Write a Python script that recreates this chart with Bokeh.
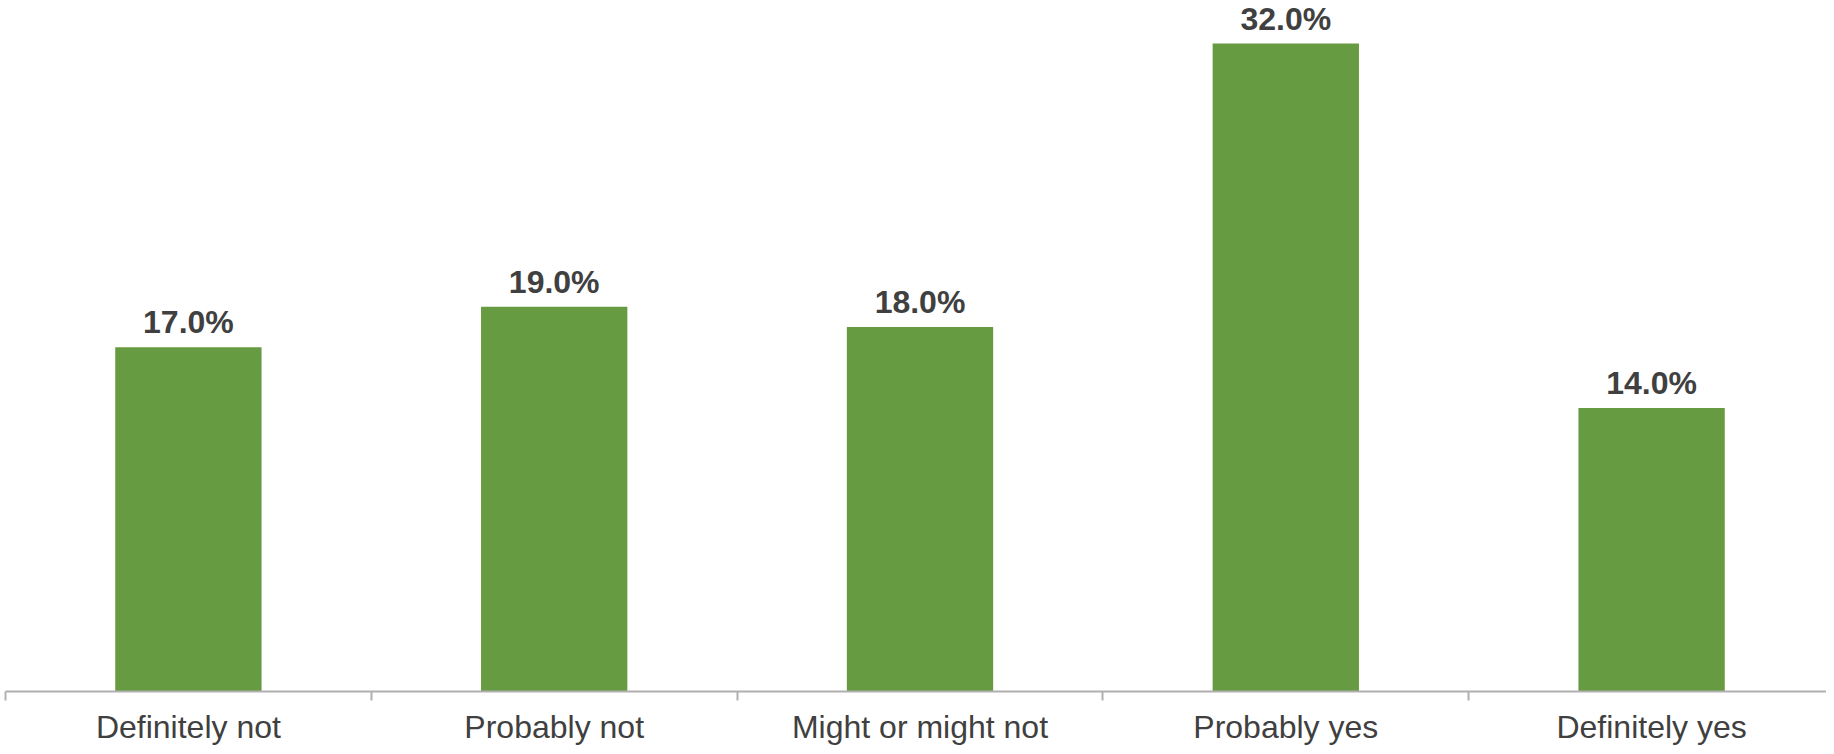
from bokeh.plotting import figure
from bokeh.models import ColumnDataSource, LabelSet, FixedTicker, Range1d
from bokeh.core.properties import value
from bokeh.embed import file_html
from bokeh.resources import INLINE

categories = ["Definitely not", "Probably not", "Might or might not", "Probably yes", "Definitely yes"]
values = [17.0, 19.0, 18.0, 32.0, 14.0]
value_labels = ["17.0%", "19.0%", "18.0%", "32.0%", "14.0%"]

n = len(categories)
xpos = [i + 0.5 for i in range(n)]
src = ColumnDataSource(dict(x=xpos, top=values, lab=value_labels))

p = figure(width=1826, height=746, output_backend="svg", toolbar_location=None,
           x_range=Range1d(-0.01367, 4.97813), y_range=Range1d(-2.716, 34.123),
           min_border_left=0, min_border_right=0, min_border_top=0, min_border_bottom=0)
p.outline_line_color = None
p.background_fill_color = "white"
p.border_fill_color = "white"
p.grid.visible = False
p.yaxis.visible = False

p.vbar(x="x", top="top", bottom=0, width=0.4, source=src, fill_color="#669B41", line_color=None)

labels = LabelSet(x="x", y="top", text="lab", source=src, text_align="center",
                  text_baseline="alphabetic", y_offset=14, text_font_size="32px",
                  text_font_style="bold", text_color="#404040",
                  text_font=value("Liberation Sans"))
p.add_layout(labels)

ax = p.xaxis[0]
ax.fixed_location = 0
ax.bounds = (0, n)
ax.ticker = FixedTicker(ticks=xpos, minor_ticks=list(range(n + 1)))
ax.major_label_overrides = {x: c for x, c in zip(xpos, categories)}
ax.major_tick_line_color = None
ax.major_tick_out = 0
ax.major_tick_in = 0
ax.minor_tick_line_color = "#B0B0B0"
ax.minor_tick_line_width = 2
ax.minor_tick_out = 9
ax.minor_tick_in = 0
ax.axis_line_color = "#B0B0B0"
ax.axis_line_width = 2
ax.major_label_text_font = "Liberation Sans"
ax.major_label_text_font_size = "32px"
ax.major_label_text_color = "#404040"
ax.major_label_standoff = 8

open("out.html", "w").write(file_html(p, INLINE))
